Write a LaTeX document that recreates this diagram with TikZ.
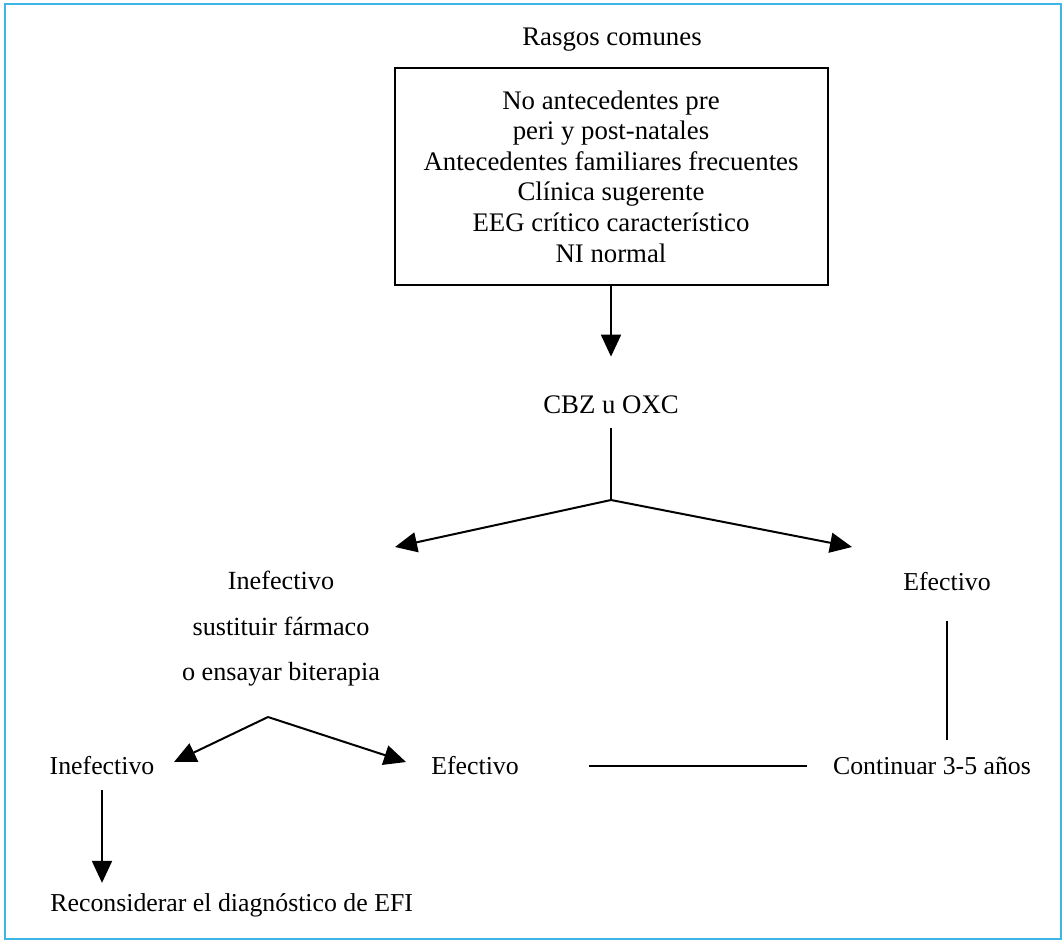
\documentclass[tikz,border=0pt]{standalone}
\usepackage{fontspec}
\setmainfont{Liberation Serif}
\usepackage{tikz}
\usetikzlibrary{arrows.meta,positioning,calc}
\definecolor{framecyan}{HTML}{3DB5E6}

\begin{document}
\begin{tikzpicture}[x=0.5pt,y=-0.5pt,
    every node/.style={font=\fontsize{13.4}{15.3}\selectfont,inner sep=0pt},
    lowlabel/.style={font=\fontsize{12.9}{15}\selectfont},
    link/.style={line width=1pt,black},
    arr/.style={link,-{Triangle[length=11pt,width=10pt]}}]
  \useasboundingbox (0,0) rectangle (1064,943);
  \draw[framecyan,line width=1pt] (5,4) rectangle (1061,939);

  \node (rasgos) at (612,40) {Rasgos comunes};
  \node[draw,link,minimum width=216.5pt,minimum height=108.5pt,align=center] (comunes) at (611,176.5)
    {No antecedentes pre\\peri y post-natales\\Antecedentes familiares frecuentes\\Clínica sugerente\\EEG crítico característico\\NI normal};
  \node (cbz) at (611,405) {CBZ u OXC};
  \draw[arr,shorten >=19.5pt] (comunes) -- (cbz);

  \coordinate (fork1) at (611,500);
  \coordinate (tipA) at (395,547);
  \coordinate (tipB) at (852,547);
  \draw[link,shorten <=7pt] (cbz) -- (fork1);
  \draw[arr] (fork1) -- (tipA);
  \draw[arr] (fork1) -- (tipB);

  \node[align=center,font=\fontsize{13.1}{22.75}\selectfont] (inef1) at (281,629)
    {Inefectivo\\sustituir fármaco\\o ensayar biterapia};
  \node[lowlabel] (efec1) at (947,582) {Efectivo};
  \node[lowlabel] (continuar) at (932,766) {Continuar 3-5 años};
  \draw[link,shorten <=14.5pt,shorten >=8.5pt] (efec1.south) -- (efec1.south |- continuar.north);

  \coordinate (fork2) at (268,717);
  \coordinate (tipC) at (174,762);
  \coordinate (tipD) at (406,762);
  \draw[arr] (fork2) -- (tipC);
  \draw[arr] (fork2) -- (tipD);

  \node[lowlabel] (inef2) at (102,766) {Inefectivo};
  \node[lowlabel] (efec2) at (475,766) {Efectivo};
  \draw[link,shorten <=35pt,shorten >=13pt] (efec2.east |- continuar) -- (continuar);

  \node[lowlabel,anchor=west] (reconsiderar) at (50,905) {Reconsiderar el diagnóstico de EFI};
  \draw[arr,shorten <=7pt,shorten >=5pt] (inef2) -- (inef2 |- reconsiderar.north);
\end{tikzpicture}
\end{document}
